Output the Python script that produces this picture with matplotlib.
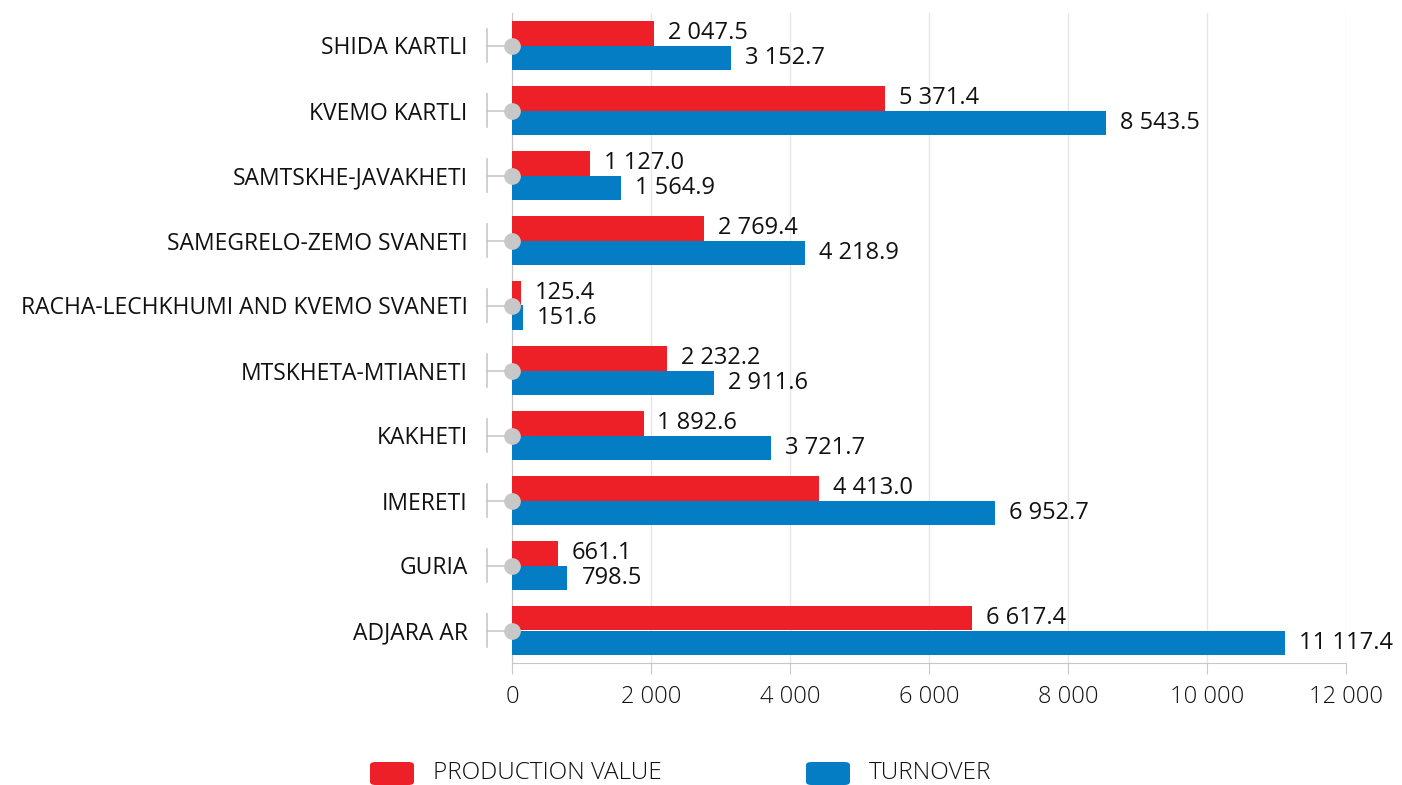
import numpy as np
import matplotlib.pyplot as plt
from matplotlib.patches import FancyBboxPatch
from matplotlib import rcParams

# data
REGIONS = ['SHIDA KARTLI', 'KVEMO KARTLI', 'SAMTSKHE-JAVAKHETI', 'SAMEGRELO-ZEMO SVANETI',
           'RACHA-LECHKHUMI AND KVEMO SVANETI', 'MTSKHETA-MTIANETI', 'KAKHETI', 'IMERETI',
           'GURIA', 'ADJARA AR']
PRODUCTION = [2047.5, 5371.4, 1127.0, 2769.4, 125.4, 2232.2, 1892.6, 4413.0, 661.1, 6617.4]
TURNOVER = [3152.7, 8543.5, 1564.9, 4218.9, 151.6, 2911.6, 3721.7, 6952.7, 798.5, 11117.4]
XTICKS = [0, 2000, 4000, 6000, 8000, 10000, 12000]

RED = '#ED2027'
BLUE = '#047DC5'
GREY = '#C8C8C8'


def fmt(v, decimals=1):
  s = f'{v:,.{decimals}f}'
  return s.replace(',', ' ')


rcParams['font.family'] = ['Open Sans', 'DejaVu Sans']
rcParams['text.color'] = '#111111'

fig = plt.figure(figsize=(14.02, 7.85), dpi=100)
ax = fig.add_axes([512 / 1402, 122 / 785, 834 / 1402, 650 / 785])

y = np.arange(len(REGIONS))
h = 0.37
ax.barh(y - h / 2, PRODUCTION, height=h, color=RED, zorder=3)
ax.barh(y + h / 2, TURNOVER, height=h, color=BLUE, zorder=3)

# value labels
for i, (p, t) in enumerate(zip(PRODUCTION, TURNOVER)):
  ax.annotate(fmt(p), (p, i - h / 2), xytext=(10, 0), textcoords='offset points',
              va='center', ha='left', fontsize=17)
  ax.annotate(fmt(t), (t, i + h / 2), xytext=(10, 0), textcoords='offset points',
              va='center', ha='left', fontsize=17)

ax.set_ylim(len(REGIONS) - 0.5, -0.5)
ax.set_xlim(0, 12000)
ax.set_xticks(XTICKS)
ax.set_xticklabels([fmt(v, 0) for v in XTICKS], fontsize=17, fontweight='light', color='#111111')
ax.tick_params(axis='x', length=8, color=GREY, pad=8)

# category labels and bracket decoration on the left
ax.set_yticks(y)
ax.set_yticklabels(REGIONS, fontsize=16.5, color='#111111')
ax.tick_params(axis='y', length=0, pad=32)
trans = ax.get_yaxis_transform()
off = -25 / 834
for i in y:
  ax.plot([off, off], [i - 0.25, i + 0.25], color=GREY, lw=1.2, transform=trans, clip_on=False)
  ax.plot([off, 0], [i, i], color=GREY, lw=1.2, transform=trans, clip_on=False)
  ax.plot([0], [i], marker='o', ms=11, color=GREY, mec=GREY, transform=trans,
          clip_on=False, zorder=5)

# grid and spines
ax.grid(axis='x', color='#E6E6E6', lw=1)
ax.set_axisbelow(True)
for s in ['top', 'right']:
  ax.spines[s].set_visible(False)
ax.spines['left'].set_color(GREY)
ax.spines['bottom'].set_color(GREY)

# legend
for x0, c, label in [(370, RED, 'PRODUCTION VALUE'), (806, BLUE, 'TURNOVER')]:
  fig.patches.append(FancyBboxPatch((x0 / 1402, 0 / 785), 44 / 1402, 23 / 785,
                                    boxstyle='round,pad=0,rounding_size=0.004',
                                    transform=fig.transFigure, color=c, ec='none'))
  fig.text((x0 + 63) / 1402, 12 / 785, label, fontsize=17.5, fontweight='light', va='center')

fig.savefig('out.png', dpi=100)
